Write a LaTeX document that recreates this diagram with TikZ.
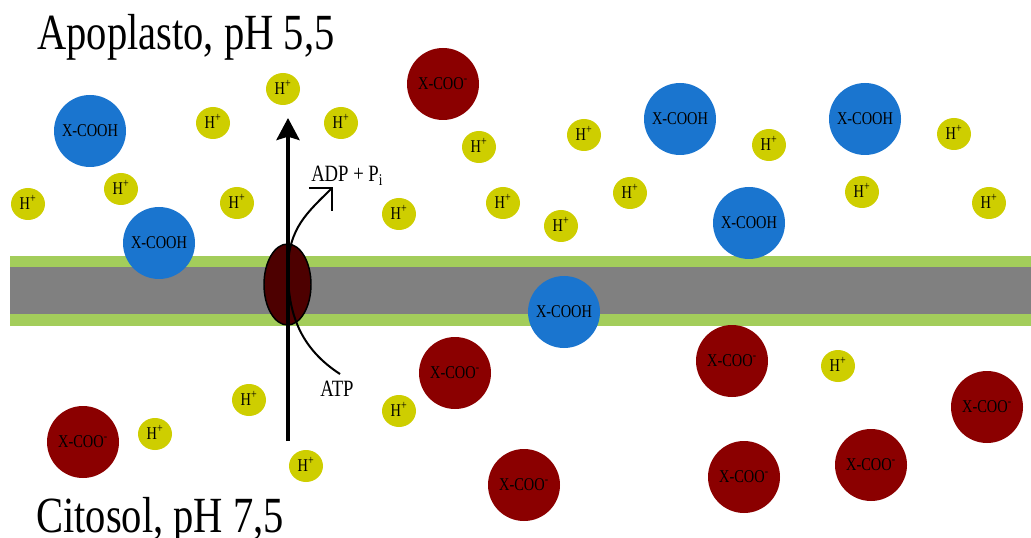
\documentclass[tikz,border=0pt]{standalone}
\usepackage{fontspec}
\setmainfont{Liberation Serif}[FakeStretch=0.8]
\usetikzlibrary{shapes.geometric,arrows.meta}
\definecolor{hyel}{RGB}{206,206,0}
\definecolor{acidc}{RGB}{26,117,207}
\definecolor{anionc}{RGB}{139,0,0}
\definecolor{lipid}{RGB}{163,205,91}
\definecolor{corec}{RGB}{128,128,128}
\definecolor{pumpc}{RGB}{77,0,0}
\begin{document}
\begin{tikzpicture}[x=0.75pt,y=-0.75pt,
  smalltxt/.style={font=\fontsize{13.5}{14}\selectfont,text height=8.9pt,text depth=0pt},
  proton/.style={ellipse,fill=hyel,minimum width=25.5pt,minimum height=24pt,inner sep=0pt,smalltxt},
  acidmol/.style={circle,fill=acidc,minimum size=54pt,inner sep=0pt,smalltxt},
  anion/.style={circle,fill=anionc,minimum size=54pt,inner sep=0pt,smalltxt},
  sidelabel/.style={font=\fontsize{38}{40}\selectfont,anchor=base west,inner sep=0pt},
  reactlabel/.style={font=\fontsize{17.5}{18}\selectfont,inner sep=0pt}
]
\useasboundingbox (0,0) rectangle (1031,538);

% lipid bilayer
\fill[lipid] (10,256) rectangle (1031,326);
\fill[corec] (10,267) rectangle (1031,314);

% compartment labels
\node[sidelabel] (apo) at (37,50) {Apoplasto, pH 5,5};
\node[sidelabel] (cit) at (36,532) {Citosol, pH 7,5};

% protons
\node[proton] (h1) at (283,89) {H\textsuperscript{+}};
\node[proton] (h2) at (213,123) {H\textsuperscript{+}};
\node[proton] (h3) at (341,123) {H\textsuperscript{+}};
\node[proton] (h4) at (479,147) {H\textsuperscript{+}};
\node[proton] (h5) at (584,135) {H\textsuperscript{+}};
\node[proton] (h6) at (769,145) {H\textsuperscript{+}};
\node[proton] (h7) at (954,134) {H\textsuperscript{+}};
\node[proton] (h8) at (28,204) {H\textsuperscript{+}};
\node[proton] (h9) at (121,189) {H\textsuperscript{+}};
\node[proton] (h10) at (237,203) {H\textsuperscript{+}};
\node[proton] (h11) at (399,214) {H\textsuperscript{+}};
\node[proton] (h12) at (503,203) {H\textsuperscript{+}};
\node[proton] (h13) at (561,226) {H\textsuperscript{+}};
\node[proton] (h14) at (630,193) {H\textsuperscript{+}};
\node[proton] (h15) at (862,192) {H\textsuperscript{+}};
\node[proton] (h16) at (989,203) {H\textsuperscript{+}};
\node[proton] (h17) at (838,366) {H\textsuperscript{+}};
\node[proton] (h18) at (249,400) {H\textsuperscript{+}};
\node[proton] (h19) at (399,411) {H\textsuperscript{+}};
\node[proton] (h20) at (155,434) {H\textsuperscript{+}};
\node[proton] (h21) at (306,466) {H\textsuperscript{+}};

% protonated acids
\node[acidmol] (b1) at (90,131) {X-COOH};
\node[acidmol] (b2) at (159,243) {X-COOH};
\node[acidmol] (b3) at (680,119) {X-COOH};
\node[acidmol] (b4) at (865,119) {X-COOH};
\node[acidmol] (b5) at (749,223) {X-COOH};
\node[acidmol] (b6) at (564,312) {X-COOH};

% dissociated acids
\node[anion] (r1) at (443,84) {X-COO\textsuperscript{-}};
\node[anion] (r2) at (455,373) {X-COO\textsuperscript{-}};
\node[anion] (r3) at (732,361) {X-COO\textsuperscript{-}};
\node[anion] (r4) at (987,407) {X-COO\textsuperscript{-}};
\node[anion] (r5) at (83,442) {X-COO\textsuperscript{-}};
\node[anion] (r6) at (524,485) {X-COO\textsuperscript{-}};
\node[anion] (r7) at (744,477) {X-COO\textsuperscript{-}};
\node[anion] (r8) at (871,465) {X-COO\textsuperscript{-}};

% H+-ATPase pump
\node[ellipse,draw=black,line width=1.1pt,fill=pumpc,minimum width=35.25pt,minimum height=60.75pt,inner sep=0pt] (pump) at (287.5,284.5) {};

% reaction labels
\node[reactlabel,anchor=base west] (adp) at (311,182) {ADP + P\textsubscript{i}};
\node[reactlabel,anchor=base] (atp) at (337,396) {ATP};

% proton transport
\coordinate (pbot) at (288,441);
\coordinate (ptop) at (288,118);
\draw[line width=3pt,-{Stealth[length=16.5pt,width=17.25pt,inset=2.5pt]}] (pbot) -- (ptop);

% ATP hydrolysis
\coordinate (cstart) at (340,374);
\coordinate (cmid) at (288,270);
\coordinate (cend) at (333,187);
\draw[line width=1.5pt,-{Straight Barb[length=12.2pt,width=24.4pt]}]
  (cstart) .. controls (295,345) and (288,305) .. (cmid)
  .. controls (288,228) and (308,212) .. (cend);
\end{tikzpicture}
\end{document}
